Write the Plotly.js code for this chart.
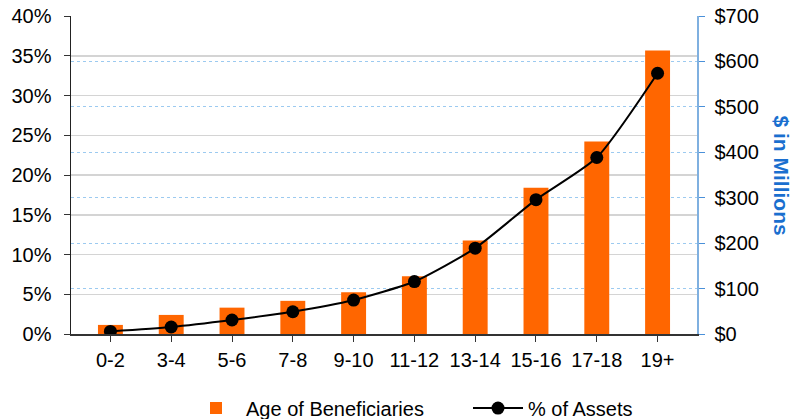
<!DOCTYPE html>
<html>
<head>
<meta charset="utf-8">
<script src="https://cdn.plot.ly/plotly-3.0.1.min.js"></script>
<style>html,body{margin:0;padding:0;background:#fff;}#chart{width:793px;height:419px;}</style>
</head>
<body>
<div id="chart"></div>
<script>
const categories = ["0-2","3-4","5-6","7-8","9-10","11-12","13-14","15-16","17-18","19+"];
const beneficiaryAssets = [20, 42, 58, 73, 92, 127, 206, 322, 424, 624]; // $ millions
const pctOfAssets = [0.0033, 0.0088, 0.0176, 0.028, 0.0427, 0.066, 0.108, 0.169, 0.222, 0.328];

const font = {family: "Liberation Sans, Arial, sans-serif", size: 20, color: "#000"};

const traces = [
  {
    type: "bar", name: "Age of Beneficiaries", legend: "legend",
    x: categories, y: beneficiaryAssets, yaxis: "y",
    marker: {color: "#FF6600"},
    hoverinfo: "x+y"
  },
  {
    type: "scatter", mode: "lines+markers", name: "% of Assets", legend: "legend2",
    x: categories, y: pctOfAssets, yaxis: "y2",
    line: {color: "#000", width: 2, shape: "spline", smoothing: 0.6},
    marker: {color: "#000", size: 13}
  }
];

const legendBase = {orientation: "h", xref: "container", yref: "container", xanchor: "left",
                    y: 0.026, yanchor: "middle", font: font, itemwidth: 50,
                    bgcolor: "rgba(0,0,0,0)"};

const layout = {
  width: 793, height: 419,
  margin: {l: 71, r: 96, t: 16, b: 85},
  paper_bgcolor: "#fff", plot_bgcolor: "#fff",
  font: font,
  showlegend: true,
  bargap: 0.59,
  legend: Object.assign({}, legendBase, {x: 186 / 793}),
  legend2: Object.assign({}, legendBase, {x: 468 / 793}),
  xaxis: {
    type: "category", showgrid: false, showline: true, linecolor: "#333", linewidth: 1.5,
    ticks: "outside", ticklen: 6, tickcolor: "#333", tickfont: font, zeroline: false,
    ticklabelstandoff: 1
  },
  yaxis: {
    side: "right", range: [0, 700], dtick: 100, tickprefix: "$",
    showgrid: true, gridcolor: "#9ccaf0", griddash: "dot", gridwidth: 1,
    showline: true, linecolor: "#7fb0e0", linewidth: 1.5,
    ticks: "outside", ticklen: 6, tickcolor: "#4a90d9", tickfont: font, zeroline: false,
    ticklabelstandoff: 6
  },
  yaxis2: {
    overlaying: "y", side: "left", range: [0, 0.4], dtick: 0.05, tickformat: ".0%",
    showgrid: true, gridcolor: "#d4d4d4", gridwidth: 1.5,
    showline: true, linecolor: "#222", linewidth: 1.5,
    ticks: "outside", ticklen: 6, tickcolor: "#333", tickfont: font, zeroline: false,
    ticklabelstandoff: 8
  },
  annotations: [{
    text: "<b>$ in Millions</b>", textangle: 90, showarrow: false,
    xref: "paper", yref: "paper", x: 1.135, y: 0.5, xanchor: "center", yanchor: "middle",
    font: {family: "Liberation Sans, Arial, sans-serif", size: 21, color: "#1a6fcf"}
  }]
};

Plotly.newPlot("chart", traces, layout, {displayModeBar: false, staticPlot: true});
</script>
</body>
</html>
